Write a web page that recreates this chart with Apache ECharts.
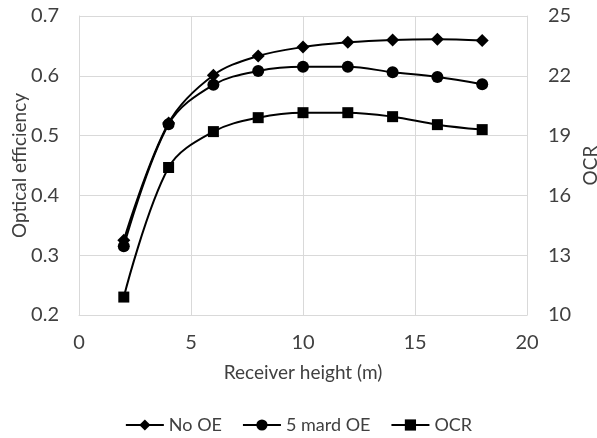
<!DOCTYPE html>
<html>
<head>
<meta charset="utf-8">
<script src="https://cdn.jsdelivr.net/npm/echarts@6/dist/echarts.min.js"></script>
<style>
html,body{margin:0;padding:0;background:#fff;}
#c{width:597px;height:438px;}
</style>
</head>
<body>
<div id="c"></div>
<script>
var heights = [2, 4, 6, 8, 10, 12, 14, 16, 18];
var noOE = [0.325, 0.521, 0.601, 0.633, 0.648, 0.656, 0.660, 0.661, 0.659];
var mardOE = [0.315, 0.519, 0.585, 0.608, 0.615, 0.615, 0.606, 0.598, 0.586];
var ocr = [10.9, 17.4, 19.2, 19.9, 20.15, 20.15, 19.95, 19.55, 19.3];

function pairs(xs, ys) { return xs.map(function (x, i) { return [x, ys[i]]; }); }

var FONT = 'Lato';
var TXT = '#404040';
var GRID = '#d9d9d9';

var chart = echarts.init(document.getElementById('c'));
chart.setOption({
  animation: false,
  backgroundColor: '#fff',
  textStyle: { fontFamily: FONT, color: TXT },
  grid: { left: 79, right: 70, top: 16, bottom: 123, containLabel: false, outerBoundsMode: 'none' },
  legend: {
    bottom: -1,
    left: 'center',
    itemWidth: 38,
    itemHeight: 14,
    itemGap: 20,
    textStyle: { fontFamily: FONT, fontSize: 18, color: TXT },
    data: ['No OE', '5 mard OE', 'OCR']
  },
  xAxis: {
    type: 'value', min: 0, max: 20, interval: 5,
    name: 'Receiver height (m)', nameLocation: 'middle', nameGap: 48, nameMoveOverlap: false,
    nameTextStyle: { fontFamily: FONT, fontSize: 19, color: TXT },
    axisLine: { show: true, lineStyle: { color: GRID, width: 1 } },
    axisTick: { show: false },
    axisLabel: { margin: 18, fontFamily: FONT, fontSize: 20, color: TXT },
    splitLine: { show: true, lineStyle: { color: GRID, width: 1 } }
  },
  yAxis: [{
    type: 'value', min: 0.2, max: 0.7, interval: 0.1,
    name: 'Optical efficiency', nameLocation: 'middle', nameGap: 50, nameRotate: 90, nameMoveOverlap: false,
    nameTextStyle: { fontFamily: FONT, fontSize: 19, color: TXT },
    axisLine: { show: true, lineStyle: { color: GRID, width: 1 } },
    axisTick: { show: false },
    axisLabel: { margin: 20, fontFamily: FONT, fontSize: 20, color: TXT,
      formatter: function (v) { return v.toFixed(1); } },
    splitLine: { show: true, lineStyle: { color: GRID, width: 1 } }
  }, {
    type: 'value', min: 10, max: 25, interval: 3, position: 'right',
    name: 'OCR', nameLocation: 'middle', nameGap: 54, nameRotate: 90, nameMoveOverlap: false,
    nameTextStyle: { fontFamily: FONT, fontSize: 19, color: TXT },
    axisLine: { show: true, lineStyle: { color: GRID, width: 1 } },
    axisTick: { show: false },
    axisLabel: { margin: 21, fontFamily: FONT, fontSize: 20, color: TXT },
    splitLine: { show: false }
  }],
  series: [{
    name: 'No OE', type: 'line', yAxisIndex: 0, smooth: 0.35,
    data: pairs(heights, noOE),
    symbol: 'diamond', symbolSize: 13,
    lineStyle: { color: '#000', width: 2 },
    itemStyle: { color: '#000' }
  }, {
    name: '5 mard OE', type: 'line', yAxisIndex: 0, smooth: 0.35,
    data: pairs(heights, mardOE),
    symbol: 'circle', symbolSize: 12,
    lineStyle: { color: '#000', width: 2 },
    itemStyle: { color: '#000' }
  }, {
    name: 'OCR', type: 'line', yAxisIndex: 1, smooth: 0.35,
    data: pairs(heights, ocr),
    symbol: 'rect', symbolSize: 11,
    lineStyle: { color: '#000', width: 2 },
    itemStyle: { color: '#000' }
  }]
});
</script>
</body>
</html>
